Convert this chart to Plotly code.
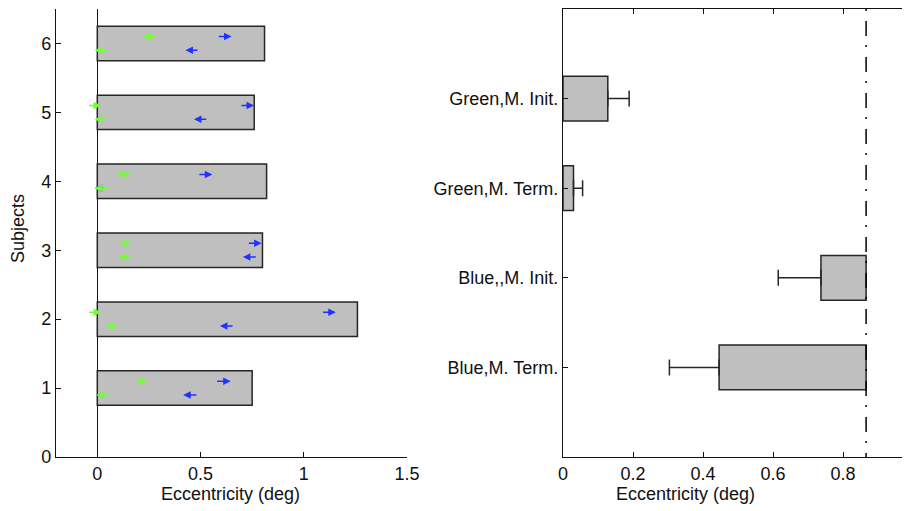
import plotly.graph_objects as go

# ---------------- data ----------------
subjects = [1, 2, 3, 4, 5, 6]
subject_ecc = [0.75, 1.26, 0.80, 0.82, 0.76, 0.81]

# outward (rightward) arrows, drawn at subject + 0.1
green_out_tail = [0.176, -0.047, 0.095, 0.092, -0.047, 0.217]
green_out_head = [0.241, 0.018, 0.163, 0.157, 0.018, 0.282]
blue_out_tail = [0.573, 1.086, 0.727, 0.487, 0.691, 0.581]
blue_out_head = [0.646, 1.155, 0.796, 0.557, 0.759, 0.650]
# return (leftward) arrows, drawn at subject - 0.1
green_back_tail = [0.063, 0.108, 0.171, 0.055, 0.055, 0.055]
green_back_head = [-0.005, 0.042, 0.104, -0.013, -0.013, -0.013]
blue_back_tail = [0.487, 0.662, 0.775, 0.040, 0.535, 0.492]
blue_back_head = [0.416, 0.594, 0.705, -0.013, 0.468, 0.427]

conditions = ["Blue,M. Term.", "Blue,,M. Init.", "Green,M. Term.", "Green,M. Init."]
cond_start = [0.446, 0.737, 0.0, 0.0]
cond_end = [0.866, 0.866, 0.030, 0.128]
cond_err_minus = [0.142, 0.122, 0.0, 0.0]
cond_err_plus = [0.0, 0.0, 0.026, 0.061]
criterion = 0.866

left_xticks = [0, 0.5, 1, 1.5]
left_yticks = [0, 1, 2, 3, 4, 5, 6]
right_xticks = [0, 0.2, 0.4, 0.6, 0.8, 1.0]

GREEN = "#70ff30"
BLUE = "#1f33ff"
BAR = "#bfbfbf"
EDGE = "#262626"
INK = "#111111"
FONT = "Liberation Sans, Arial, sans-serif"
FS = 18

# the page places the figure 8px from the window's top-left corner
OFF = 8
W, H = 910 - OFF, 511 - OFF


def px(sx):
    return (sx - OFF) / W


def py(sy):
    return 1 - (sy - OFF) / H


fig = go.Figure()

# left panel bars
fig.add_trace(go.Bar(
    orientation="h", y=subjects, x=subject_ecc, base=0, width=0.5,
    marker=dict(color=BAR, line=dict(color=EDGE, width=1.5)),
    xaxis="x", yaxis="y", showlegend=False, hoverinfo="skip"))

# right panel bars (floating for blue)
fig.add_trace(go.Bar(
    orientation="h", y=conditions,
    x=[e - s for s, e in zip(cond_start, cond_end)], base=cond_start, width=0.5,
    marker=dict(color=BAR, line=dict(color=EDGE, width=1.5)),
    xaxis="x2", yaxis="y2", showlegend=False, hoverinfo="skip"))

# error bars at the outer edge of each bar
err_x = [s if m > 0 else e for s, e, m in zip(cond_start, cond_end, cond_err_minus)]
fig.add_trace(go.Scatter(
    x=err_x, y=conditions, mode="markers",
    marker=dict(size=1, color="rgba(0,0,0,0)"),
    error_x=dict(type="data", symmetric=False, array=cond_err_plus,
                 arrayminus=cond_err_minus, color=EDGE, thickness=1.5, width=8),
    xaxis="x2", yaxis="y2", showlegend=False, hoverinfo="skip"))

annotations = []


def add_arrows(tails, heads, offset, color):
    for s, t, h in zip(subjects, tails, heads):
        annotations.append(dict(
            x=h, y=s + offset, ax=t, ay=s + offset,
            xref="x", yref="y", axref="x", ayref="y",
            text="", showarrow=True, arrowhead=2, arrowsize=1.0,
            arrowwidth=1.5, arrowcolor=color, standoff=0, startstandoff=0))


add_arrows(blue_out_tail, blue_out_head, 0.1, BLUE)
add_arrows(blue_back_tail, blue_back_head, -0.1, BLUE)
add_arrows(green_out_tail, green_out_head, 0.1, GREEN)
add_arrows(green_back_tail, green_back_head, -0.1, GREEN)

# axis titles
annotations.append(dict(text="Eccentricity (deg)", x=(231 - 56) / (407 - 56), y=(457 - 494) / 448,
                        xref="x domain", yref="y domain", showarrow=False,
                        xanchor="center", yanchor="middle",
                        font=dict(size=FS, family=FONT, color=INK)))
annotations.append(dict(text="Eccentricity (deg)", x=(685 - 563) / (910 - 563), y=(457 - 494) / 448,
                        xref="x2 domain", yref="y2 domain", showarrow=False,
                        xanchor="center", yanchor="middle",
                        font=dict(size=FS, family=FONT, color=INK)))
annotations.append(dict(text="Subjects", x=px(18), y=py(229),
                        xref="paper", yref="paper", showarrow=False, textangle=-90,
                        xanchor="center", yanchor="middle",
                        font=dict(size=FS, family=FONT, color=INK)))

shapes = [dict(type="line", xref="x2", yref="y2 domain", x0=criterion, x1=criterion,
               y0=1, y1=0, line=dict(color="#000000", width=1.5, dash="2px,10px,15px,9px"))]

ydom = [py(457), py(9)]
axis_common = dict(showgrid=False, showline=True, linecolor=INK, linewidth=1.2,
                   ticks="inside", ticklen=5, tickcolor=INK, tickwidth=1,
                   tickfont=dict(size=FS, family=FONT, color=INK))

fig.update_layout(
    width=W, height=H, margin=dict(l=0, r=0, t=0, b=0, autoexpand=False),
    paper_bgcolor="white", plot_bgcolor="white", barmode="overlay",
    xaxis=dict(domain=[px(56), px(407)], range=[-0.2, 1.5], tickvals=left_xticks,
               ticktext=["0", "0.5", "1", "1.5"], zeroline=True, zerolinecolor=INK,
               zerolinewidth=1.2, anchor="y", **axis_common),
    yaxis=dict(domain=ydom, range=[0, 6.5], tickvals=left_yticks, zeroline=False,
               anchor="x", **axis_common),
    xaxis2=dict(domain=[px(563), 1.0], range=[0, (910 - 563) / 350], tickvals=right_xticks,
                ticktext=["0", "0.2", "0.4", "0.6", "0.8", "1"], zeroline=False,
                mirror="ticks", anchor="y2", **axis_common),
    yaxis2=dict(domain=ydom, range=[-1, 4], type="category", categoryorder="array",
                categoryarray=conditions, zeroline=False, mirror="ticks", anchor="x2",
                **axis_common),
    annotations=annotations, shapes=shapes,
)

fig.write_html("out.html")
